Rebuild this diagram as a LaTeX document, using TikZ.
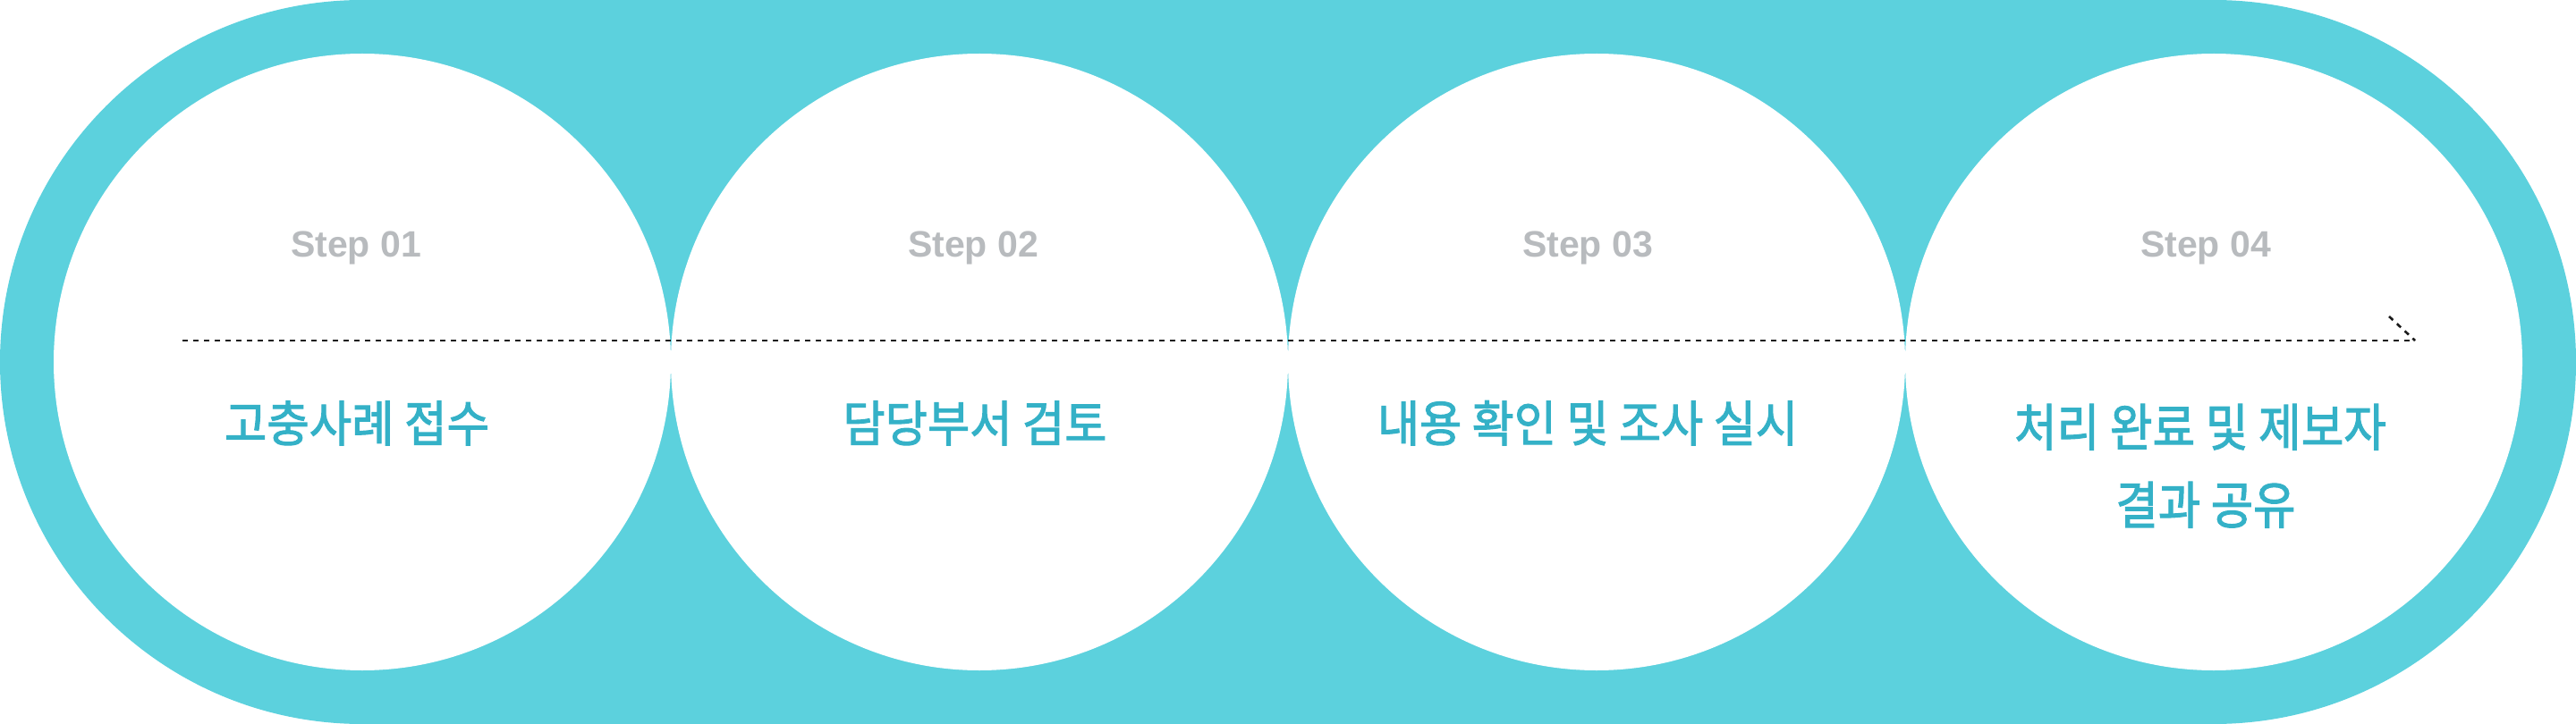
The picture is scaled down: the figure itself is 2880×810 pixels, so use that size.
\documentclass[tikz,border=0pt]{standalone}
\usepackage{fontspec}
\usepackage{graphicx}
\newfontfamily\krfont[FakeBold=2]{Noto Sans CJK KR}
\newfontfamily\stepfont{Liberation Sans}
\definecolor{bgcyan}{HTML}{5CD1DD}
\definecolor{titlecyan}{HTML}{34B1C7}
\definecolor{stepgray}{HTML}{B8BBBE}
\definecolor{lineblack}{HTML}{1A1A1A}
\newcommand\fitto[2]{\resizebox{#1}{\height}{#2}}
\tikzset{
  stepcircle/.style={circle, fill=white, minimum size=690pt, inner sep=0pt},
  steplabel/.style={anchor=base, inner sep=0pt, text=stepgray, font=\stepfont\bfseries\fontsize{41}{48}\selectfont},
  titlelabel/.style={anchor=base, inner sep=0pt, text=titlecyan, font=\krfont\fontsize{55}{66}\selectfont},
  dashline/.style={draw=lineblack, line width=2.6pt, dash pattern=on 6pt off 6pt}
}
\begin{document}
\begin{tikzpicture}[x=1pt,y=-1pt]
\useasboundingbox (0,0) rectangle (2880,810);
\fill[bgcyan, rounded corners=405pt] (0,0) rectangle (2880,810);
\node[stepcircle] (c1) at (405,405) {};
\node[stepcircle] (c2) at (1095,405) {};
\node[stepcircle] (c3) at (1785,405) {};
\node[stepcircle] (c4) at (2475,405) {};
\node[steplabel] (s1) at (398,288) {Step 01};
\node[steplabel] (s2) at (1088,288) {Step 02};
\node[steplabel] (s3) at (1775,288) {Step 03};
\node[steplabel] (s4) at (2466,288) {Step 04};
\node[titlelabel] (t1) at (399,494) {\fitto{296pt}{고충사례 접수}};
\node[titlelabel] (t2) at (1090,494) {\fitto{295pt}{담당부서 검토}};
\node[titlelabel] (t3) at (1775,494) {\fitto{470pt}{내용 확인 및 조사 실시}};
\node[titlelabel, font=\krfont\fontsize{57}{66}\selectfont] (t4a) at (2460,499) {\fitto{416pt}{처리 완료 및 제보자}};
\node[titlelabel, font=\krfont\fontsize{57}{66}\selectfont] (t4b) at (2466,586) {\fitto{201pt}{결과 공유}};
\coordinate (ls) at (204,381);
\coordinate (le) at (2700,381);
\coordinate (lb) at (2671,354);
\draw[dashline] (ls) -- (le);
\draw[dashline] (lb) -- (le);
\end{tikzpicture}
\end{document}
